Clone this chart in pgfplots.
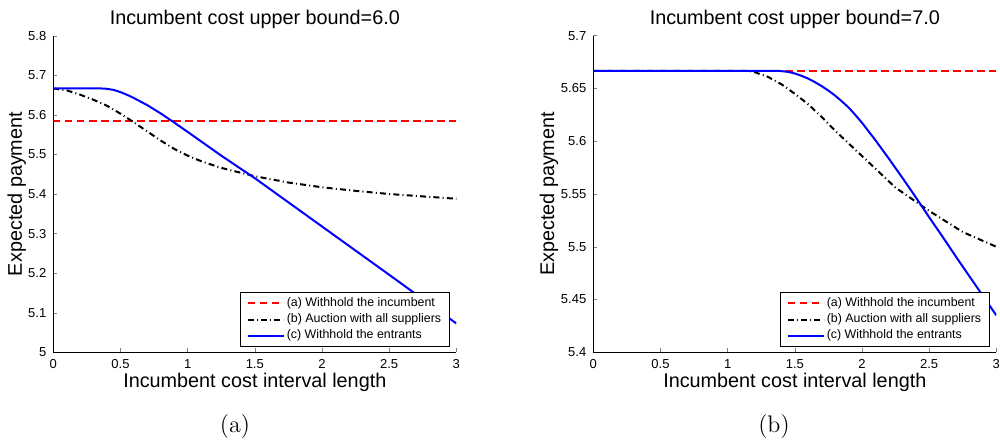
\documentclass[border=0pt]{standalone}
\usepackage{pgfplots}
\pgfplotsset{compat=1.18}
\usepackage{fontspec}
\newfontfamily\arial{Liberation Sans}

\pgfplotsset{
 every axis title shift=0pt,
 mystyle/.style={
  scale only axis, width=201.5pt, height=158.3pt,
  axis x line*=bottom, axis y line*=left,
  xmin=0, xmax=3, xtick={0,0.5,1,1.5,2,2.5,3},
  tick align=inside, major tick length=2pt,
  tick label style={font=\arial\fontsize{6.5}{7.5}\selectfont},
  /pgf/number format/assume math mode=true,
  label style={font=\arial\fontsize{9.9}{11}\selectfont},
  title style={font=\arial\fontsize{9.9}{11}\selectfont, at={(axis description cs:0.5,1.036)}, anchor=base},
  xlabel style={at={(axis description cs:0.5,-0.1105)}, anchor=base},
  xlabel={Incumbent cost interval length},
  ylabel={Expected payment},
  legend cell align=left,
  legend style={font=\arial\fontsize{6.2}{7}\selectfont, at={(0.984,0.018)}, anchor=south east,
    draw=black, line width=0.5pt, inner xsep=3pt, inner ysep=1pt, nodes={inner sep=1.1pt}},
  legend image code/.code={\draw[##1] (0pt,0pt) -- (18pt,0pt);},
 },
 sa/.style={red, line width=1pt, dash pattern=on 3.6pt off 2.4pt},
 sb/.style={black, line width=1pt, dash pattern=on 3pt off 1.6pt on 0.5pt off 1.6pt},
 sc/.style={blue, line width=1pt},
}

\begin{document}
\begin{tikzpicture}
\useasboundingbox (0,0) rectangle (500pt,221.5pt);
\begin{axis}[mystyle, at={(26.65pt,45.35pt)}, anchor=south west,
  ylabel style={at={(axis description cs:-0.078,0.5)}, anchor=base},
  ymin=5, ymax=5.8, ytick={5,5.1,5.2,5.3,5.4,5.5,5.6,5.7,5.8},
  title={Incumbent cost upper bound=6.0}]
\addplot[sa] coordinates {(0,5.5833) (3,5.5833)};
\addlegendentry{(a) Withhold the incumbent}
\addplot[sb] coordinates {(0,5.6667) (0.1,5.662) (0.2,5.651) (0.3,5.638) (0.4,5.623) (0.5,5.603) (0.6,5.581) (0.7,5.558) (0.8,5.535) (0.9,5.514) (1.0,5.497) (1.1,5.483) (1.25,5.466) (1.5,5.445) (1.75,5.429) (2.0,5.417) (2.25,5.408) (2.5,5.400) (2.75,5.394) (3.0,5.388)};
\addlegendentry{(b) Auction with all suppliers}
\addplot[sc] coordinates {(0,5.6667) (0.35,5.6667) (0.375,5.6665) (0.4,5.6658) (0.45,5.663) (0.5,5.6575) (0.55,5.6505) (0.6,5.6425) (0.7,5.6245) (0.8,5.6035) (0.9,5.5805) (1.0,5.557) (1.1,5.533) (1.25,5.497) (1.5,5.440) (1.75,5.379) (2.0,5.318) (2.5,5.196) (3.0,5.073)};
\addlegendentry{(c) Withhold the entrants}
\end{axis}
\begin{axis}[mystyle, at={(296.65pt,45.35pt)}, anchor=south west,
  ylabel style={at={(axis description cs:-0.0973,0.5)}, anchor=base},
  ymin=5.4, ymax=5.7, ytick={5.4,5.45,5.5,5.55,5.6,5.65,5.7},
  title={Incumbent cost upper bound=7.0}]
\addplot[sa] coordinates {(0,5.6667) (3,5.6667)};
\addlegendentry{(a) Withhold the incumbent}
\addplot[sb] coordinates {(0,5.6667) (1.15,5.6667) (1.2,5.6655) (1.3,5.661) (1.4,5.654) (1.5,5.645) (1.6,5.635) (1.7,5.623) (1.8,5.610) (1.9,5.598) (2.0,5.586) (2.1,5.574) (2.25,5.556) (2.5,5.534) (2.75,5.514) (3.0,5.500)};
\addlegendentry{(b) Auction with all suppliers}
\addplot[sc] coordinates {(0,5.6667) (1.38,5.6667) (1.45,5.6657) (1.5,5.6642) (1.55,5.6620) (1.6,5.6593) (1.65,5.6560) (1.7,5.6522) (1.75,5.6480) (1.8,5.6432) (1.85,5.6378) (1.9,5.6320) (1.95,5.6250) (2.0,5.6175) (2.1,5.6010) (2.2,5.5835) (2.3,5.5655) (2.4,5.547) (2.5,5.528) (2.6,5.5095) (2.7,5.4905) (2.8,5.472) (2.9,5.4535) (3.0,5.435)};
\addlegendentry{(c) Withhold the entrants}
\end{axis}
\node[font=\fontsize{12}{14}\selectfont, anchor=base] at (117.5pt,5pt) {(a)};
\node[font=\fontsize{12}{14}\selectfont, anchor=base] at (387pt,5pt) {(b)};
\end{tikzpicture}
\end{document}
